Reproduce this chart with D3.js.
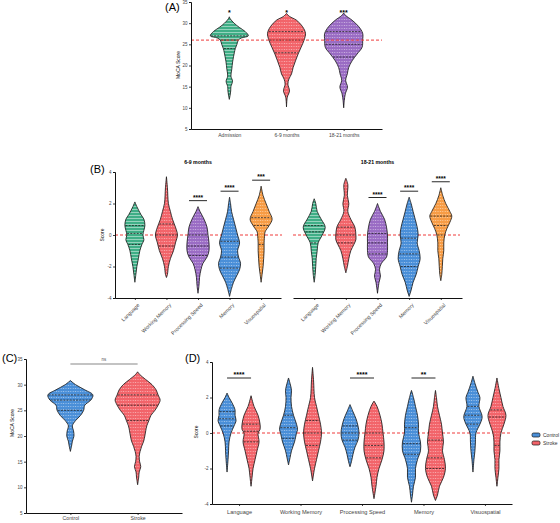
<!DOCTYPE html>
<html>
<head>
  <title>MoCA violins</title>
  <script src="https://cdn.jsdelivr.net/npm/d3@7"></script>
  <style>
    body { margin: 0; background: #fff; }
    text { font-family: "Liberation Sans", Arial, sans-serif; }
  </style>
</head>
<body>
<svg width="560" height="523"></svg>

<script>
  // ---- data ----
  // violin profiles: [value, relative density]
  var timeCats = ["Admission", "6-9 months", "18-21 months"];
  var domainCats = ["Language", "Working Memory", "Processing Speed", "Memory", "Visuospatial"];
  var groupCats = ["Control", "Stroke"];

  var mocaAdmission = [[12,0],[13,0.04],[14,0.07],[15,0.08],[16.3,0.16],[17.5,0.08],[19,0.12],[21,0.17],[23,0.25],[24,0.3],[25,0.38],[26,0.45],[26.5,0.6],[27,0.95],[28,0.8],[29,0.5],[30,0.24],[31,0.05],[31.5,0]];
  var moca69 = [[10.2,0],[12.5,0.04],[14,0.15],[15.6,0.07],[16.8,0.12],[18,0.25],[19.5,0.33],[21.1,0.45],[22.7,0.58],[24.3,0.73],[26,0.88],[27.6,0.95],[29.2,0.8],[30.7,0.5],[31.6,0.15],[32.3,0]];
  var moca1821 = [[10,0],[11.7,0.03],[13.3,0.08],[14.9,0.19],[16.5,0.1],[18,0.18],[19.5,0.25],[21.1,0.42],[22.7,0.67],[24.3,0.92],[26,0.95],[27.6,0.95],[29.2,0.75],[30.7,0.42],[31.8,0.1],[32.4,0]];
  var mocaQuart = [[24,26,27],[23,26,28],[22,25,28]];
  var mocaStars = ["*", "*", "***"];

  var b69 = [
    [[-3,0],[-2.5,0.09],[-2,0.18],[-1.5,0.32],[-1,0.45],[-0.6,0.64],[-0.3,0.82],[0,0.73],[0.3,0.82],[0.6,0.91],[1,0.82],[1.3,0.55],[1.8,0.18],[2.1,0]],
    [[-2.7,0],[-2.5,0.09],[-2,0.18],[-1.5,0.36],[-1,0.64],[-0.5,0.82],[0,1],[0.5,0.82],[1,0.55],[1.5,0.36],[2,0.18],[3,0.09],[3.7,0]],
    [[-3.7,0],[-3.2,0.09],[-2.7,0.14],[-2.2,0.27],[-1.8,0.45],[-1.4,0.82],[-1,1],[-0.5,1],[0,0.91],[0.5,0.82],[1,0.55],[1.5,0.18],[1.8,0]],
    [[-3.9,0],[-3.4,0.18],[-3,0.36],[-2.6,0.64],[-2.2,0.91],[-1.8,1],[-1.4,0.82],[-1,0.73],[-0.5,0.91],[0,0.73],[0.5,0.55],[1,0.36],[1.5,0.18],[2,0.09],[2.4,0]],
    [[-3,0],[-2.5,0.09],[-2,0.18],[-1.5,0.23],[-1,0.27],[-0.5,0.27],[0,0.32],[0.2,0.36],[0.6,0.73],[1,1],[1.5,0.73],[2,0.45],[2.5,0.18],[3.1,0]]
  ];
  var b69Quart = [[-0.6,0.1,0.6],[-0.7,0,0.7],[-1.3,-0.7,0],[-2.1,-1.4,-0.4],[-0.6,0.6,1.1]];
  var b69Stars = ["", "", "****", "****", "***"];

  var b1821 = [
    [[-3,0],[-2.5,0.09],[-2,0.14],[-1.5,0.18],[-1,0.27],[-0.5,0.36],[0,0.73],[0.5,1],[1,0.64],[1.5,0.27],[2,0.14],[2.3,0]],
    [[-2.4,0],[-2,0.14],[-1.5,0.27],[-1,0.45],[-0.6,0.73],[-0.3,0.91],[0,0.91],[0.5,0.82],[1,0.45],[1.5,0.18],[2,0.27],[2.5,0.14],[3.2,0.18],[3.6,0]],
    [[-3.7,0],[-3,0.14],[-2.6,0.27],[-2.2,0.18],[-1.8,0.36],[-1.4,0.82],[-1,0.91],[-0.5,0.91],[0,0.91],[0.5,0.82],[1,0.64],[1.5,0.27],[2,0]],
    [[-3.9,0],[-3.5,0.18],[-3,0.36],[-2.5,0.64],[-2,0.82],[-1.5,1],[-1,0.91],[-0.5,0.73],[0,0.82],[0.5,0.73],[1,0.55],[1.5,0.36],[2,0.18],[2.4,0]],
    [[-2.9,0],[-2.5,0.09],[-2,0.14],[-1.5,0.18],[-1,0.27],[-0.5,0.27],[0,0.36],[0.4,0.55],[0.8,0.82],[1.2,1],[1.5,0.82],[2,0.45],[2.5,0.18],[3,0]]
  ];
  var b1821Quart = [[-0.5,0.2,0.6],[-0.5,0,0.5],[-1.2,-0.5,0.1],[-2,-1.2,-0.2],[0,0.6,1.2]];
  var b1821Stars = ["", "", "****", "****", "****"];

  var cControl = [[17,0],[18,0.05],[19,0.09],[20,0.16],[21,0.14],[22,0.09],[23,0.23],[24,0.45],[25,0.59],[26,0.64],[27,0.91],[28,1],[29,0.64],[30,0.23],[30.8,0]];
  var cStroke = [[10.5,0],[12,0.05],[13,0.07],[14,0.14],[15,0.09],[16,0.07],[17,0.11],[18,0.18],[19,0.27],[20,0.32],[21,0.36],[22,0.41],[23,0.5],[24,0.59],[25,0.77],[26,0.91],[27,1],[28,0.91],[29,0.82],[30,0.64],[31,0.36],[32,0.09],[32.5,0]];
  var cQuart = [[25,27,28],[23,26,28]];

  var dControl = [
    [[-2.2,0],[-1.5,0.1],[-1,0.15],[-0.5,0.2],[0,0.4],[0.4,0.7],[0.7,0.9],[1,0.8],[1.3,0.8],[1.7,0.5],[2,0.2],[2.25,0]],
    [[-1.8,0],[-1.4,0.15],[-1,0.3],[-0.5,0.6],[0,0.8],[0.2,0.9],[0.5,0.8],[1,0.5],[1.5,0.3],[2,0.25],[2.4,0.3],[2.8,0.15],[3.1,0]],
    [[-1.9,0],[-1.6,0.15],[-1.2,0.3],[-0.8,0.5],[-0.4,0.8],[0,0.9],[0.4,0.8],[0.8,0.6],[1.2,0.3],[1.6,0]],
    [[-3.9,0],[-3.5,0.1],[-3,0.2],[-2.5,0.4],[-2,0.4],[-1.5,0.6],[-1,0.9],[-0.5,0.9],[0,0.7],[0.5,0.7],[1,0.6],[1.5,0.4],[2,0.2],[2.4,0]],
    [[-2.2,0],[-1.5,0.1],[-1,0.2],[-0.5,0.25],[0,0.3],[0.5,0.7],[0.8,0.9],[1,0.9],[1.5,0.6],[2,0.7],[2.3,0.5],[2.8,0.2],[3.2,0]]
  ];
  var dStroke = [
    [[-3,0],[-2.5,0.1],[-2,0.2],[-1.5,0.4],[-1,0.6],[-0.5,0.8],[0,0.7],[0.2,0.9],[0.5,0.9],[1,0.7],[1.5,0.3],[2.1,0]],
    [[-2.7,0],[-2,0.2],[-1.5,0.4],[-1,0.6],[-0.5,0.8],[0,0.9],[0.5,0.8],[1,0.6],[1.5,0.4],[2,0.2],[3,0.1],[3.7,0]],
    [[-3.7,0],[-3,0.2],[-2.5,0.3],[-2,0.5],[-1.5,0.8],[-1,1],[-0.5,1],[0,0.9],[0.5,0.8],[1,0.6],[1.5,0.3],[1.8,0]],
    [[-3.8,0],[-3.5,0.2],[-3,0.4],[-2.5,0.8],[-2,1],[-1.5,0.9],[-1,0.7],[-0.5,0.8],[0,0.7],[0.5,0.6],[1,0.4],[1.5,0.2],[2,0.1],[2.4,0]],
    [[-3,0],[-2.5,0.1],[-2,0.2],[-1.5,0.2],[-1,0.3],[-0.5,0.3],[0,0.4],[0.5,0.7],[1,0.9],[1.5,0.6],[2,0.4],[2.5,0.2],[3.1,0]]
  ];
  var dControlQuart = [[0.4,0.8,1.2],[-0.3,0.3,1],[-0.4,0,0.4],[-1.2,-0.6,0.3],[0.5,1,1.5]];
  var dStrokeQuart = [[-0.5,0.1,0.5],[-0.7,0,0.7],[-1.4,-0.7,0],[-2,-1.4,-0.4],[-0.7,0.9,1.3]];
  var dStars = ["****", "", "****", "**", ""];

  var colors = {green: "#3fae86", red: "#f2646a", purple: "#9a6cc4", blue: "#4a8fd8", orange: "#f79c45"};
  var domainColors = ["green", "red", "purple", "blue", "orange"];

  var svg = d3.select("svg");
  var defs = svg.append("defs");
  var plain = function(d) { return String(d); };   // hyphen minus, not the unicode one

  // dotted / striped fills
  Object.keys(colors).forEach(function(k) {
    var p = defs.append("pattern").attr("id", "pat-" + k)
      .attr("patternUnits", "userSpaceOnUse").attr("width", 2.4).attr("height", 3);
    p.append("rect").attr("width", 2.4).attr("height", 3).attr("fill", colors[k]);
    if (k == "green") {
      p.append("rect").attr("y", 2).attr("width", 2.4).attr("height", 1).attr("fill", "#fff").attr("opacity", 0.45);
    } else {
      p.append("circle").attr("cx", 1.2).attr("cy", 1.5).attr("r", 0.6).attr("fill", "#fff").attr("opacity", 0.55);
    }
  });

  function interp(profile, v) {
    for (var i = 1; i < profile.length; i++) {
      if (v <= profile[i][0]) {
        var a = profile[i-1], b = profile[i];
        return a[1] + (b[1] - a[1]) * (v - a[0]) / (b[0] - a[0]);
      }
    }
    return 0;
  }

  function violin(g, y, w, cx, profile, quart, colorKey) {
    var area = d3.area()
      .y(function(d) { return y(d[0]); })
      .x0(function(d) { return cx - w(d[1]); })
      .x1(function(d) { return cx + w(d[1]); })
      .curve(d3.curveCatmullRom.alpha(0.5));
    g.append("path").datum(profile)
      .attr("d", area)
      .attr("fill", "url(#pat-" + colorKey + ")")
      .attr("stroke", "#111").attr("stroke-width", 0.8);
    quart.forEach(function(q) {
      var hw = w(interp(profile, q)) - 0.6;
      g.append("line")
        .attr("x1", cx - hw).attr("x2", cx + hw)
        .attr("y1", y(q)).attr("y2", y(q))
        .attr("stroke", "#222").attr("stroke-width", 0.8)
        .attr("stroke-dasharray", "2,1.2");
    });
  }

  function styleAxis(sel, fs) {
    sel.selectAll("path.domain").attr("stroke", "#111").attr("stroke-width", 1);
    sel.selectAll(".tick line").attr("stroke", "#111").attr("stroke-width", 0.8);
    sel.selectAll(".tick text").attr("font-size", fs).attr("fill", "#444");
  }

  function refLine(x0, x1, yy) {
    svg.append("line").attr("x1", x0).attr("x2", x1).attr("y1", yy).attr("y2", yy)
      .attr("stroke", "#ef3b3b").attr("stroke-width", 1).attr("stroke-dasharray", "3,2");
  }

  function label(txt, x, y, size, extra) {
    var t = svg.append("text").attr("x", x).attr("y", y).attr("font-size", size).text(txt);
    if (extra) extra(t);
    return t;
  }

  // ---------- Panel A ----------
  var yA = d3.scaleLinear().domain([5, 35]).range([129, 2]);
  var xA = d3.scalePoint().domain(timeCats).range([191, 382]).padding(0.67);
  var wA = d3.scaleLinear().domain([0, 1]).range([0, 20]);
  var gA = svg.append("g");
  [mocaAdmission, moca69, moca1821].forEach(function(p, i) {
    violin(gA, yA, wA, xA(timeCats[i]), p, mocaQuart[i], ["green", "red", "purple"][i]);
    label(mocaStars[i], xA(timeCats[i]), 15, 7, function(t) { t.attr("text-anchor", "middle").attr("font-weight", "bold"); });
  });
  refLine(191, 382, yA(26));
  var axA = svg.append("g").attr("transform", "translate(191,0)")
    .call(d3.axisLeft(yA).tickValues([5,10,15,20,25,30,35]).tickFormat(plain).tickSize(2).tickPadding(1.5));
  styleAxis(axA, 4.5);
  var axAx = svg.append("g").attr("transform", "translate(0,129)")
    .call(d3.axisBottom(xA).tickSize(2).tickSizeOuter(0).tickPadding(2));
  styleAxis(axAx, 5);
  label("(A)", 165, 11, 11);
  label("MoCA Score", 180, 65, 5, function(t) { t.attr("text-anchor", "middle").attr("transform", "rotate(-90,180,65)"); });

  // ---------- Panel B ----------
  var yB = d3.scaleLinear().domain([-4, 4]).range([298, 172]);
  var wB = d3.scaleLinear().domain([0, 1]).range([0, 11]);
  var xBl = d3.scalePoint().domain(domainCats).range([115, 281]).padding(0.63);
  var xBr = d3.scalePoint().domain(domainCats).range([293, 462]).padding(0.67);

  refLine(115, 282, yB(0));
  refLine(293, 460, yB(0));

  function drawB(xs, data, quarts, stars, title) {
    var g = svg.append("g");
    data.forEach(function(p, i) {
      var cx = xs(domainCats[i]);
      violin(g, yB, wB, cx, p, quarts[i], domainColors[i]);
      if (stars[i]) {
        var top = yB(p[p.length - 1][0]) - 6;
        g.append("line").attr("x1", cx - 9).attr("x2", cx + 9).attr("y1", top).attr("y2", top)
          .attr("stroke", "#111").attr("stroke-width", 0.9);
        g.append("text").attr("x", cx).attr("y", top - 0.8).attr("text-anchor", "middle")
          .attr("font-size", 6.5).attr("font-weight", "bold").text(stars[i]);
      }
    });
    var ax = svg.append("g").attr("transform", "translate(0,298)")
      .call(d3.axisBottom(xs).tickSize(2).tickSizeOuter(0));
    styleAxis(ax, 5.2);
    ax.selectAll(".tick text")
      .attr("text-anchor", "end").attr("dy", 0)
      .attr("transform", "translate(1,4) rotate(-45)");
    var r = xs.range();
    label(title, (r[0] + r[1]) / 2, 164, 5.2, function(t) { t.attr("text-anchor", "middle").attr("font-weight", "bold"); });
  }
  drawB(xBl, b69, b69Quart, b69Stars, "6-9 months");
  drawB(xBr, b1821, b1821Quart, b1821Stars, "18-21 months");
  var axB = svg.append("g").attr("transform", "translate(115,0)")
    .call(d3.axisLeft(yB).tickValues([-4,-2,0,2,4]).tickFormat(plain).tickSize(2).tickPadding(1.5));
  styleAxis(axB, 4.5);
  label("(B)", 90, 173, 11);
  label("Score", 104, 235, 5, function(t) { t.attr("text-anchor", "middle").attr("transform", "rotate(-90,104,235)"); });

  // ---------- Panel C ----------
  var yC = d3.scaleLinear().domain([5, 35]).range([513, 359]);
  var xC = d3.scalePoint().domain(groupCats).range([26, 182]).padding(0.66);
  var wC = d3.scaleLinear().domain([0, 1]).range([0, 22.5]);
  var gC = svg.append("g");
  violin(gC, yC, wC, xC("Control"), cControl, cQuart[0], "blue");
  violin(gC, yC, wC, xC("Stroke"), cStroke, cQuart[1], "red");
  gC.append("line").attr("x1", xC("Control")).attr("x2", xC("Stroke")).attr("y1", 364).attr("y2", 364)
    .attr("stroke", "#888").attr("stroke-width", 1.2);
  label("ns", (xC("Control") + xC("Stroke")) / 2, 361, 4.5, function(t) { t.attr("text-anchor", "middle").attr("fill", "#555"); });
  var axC = svg.append("g").attr("transform", "translate(26,0)")
    .call(d3.axisLeft(yC).tickValues([5,10,15,20,25,30,35]).tickFormat(plain).tickSize(2).tickPadding(1.5));
  styleAxis(axC, 4.5);
  var axCx = svg.append("g").attr("transform", "translate(0,513)")
    .call(d3.axisBottom(xC).tickSize(2).tickSizeOuter(0).tickPadding(1.5));
  styleAxis(axCx, 5.2);
  label("(C)", 2, 362, 11);
  label("MoCA Score", 14, 423, 5, function(t) { t.attr("text-anchor", "middle").attr("transform", "rotate(-90,14,423)"); });

  // ---------- Panel D ----------
  var yD = d3.scaleLinear().domain([-4, 4]).range([504, 362]);
  var xD = d3.scalePoint().domain(domainCats).range([212, 512]).padding(0.44);
  var wD = d3.scaleLinear().domain([0, 1]).range([0, 10]);
  refLine(212, 510, yD(0));
  var gD = svg.append("g");
  domainCats.forEach(function(c, i) {
    var cx = xD(c);
    violin(gD, yD, wD, cx - 12, dControl[i], dControlQuart[i], "blue");
    violin(gD, yD, wD, cx + 12, dStroke[i], dStrokeQuart[i], "red");
    if (dStars[i]) {
      gD.append("line").attr("x1", cx - 12).attr("x2", cx + 12).attr("y1", 378).attr("y2", 378)
        .attr("stroke", "#111").attr("stroke-width", 0.9);
      gD.append("text").attr("x", cx).attr("y", 376.5).attr("text-anchor", "middle")
        .attr("font-size", 7).attr("font-weight", "bold").text(dStars[i]);
    }
  });
  var axD = svg.append("g").attr("transform", "translate(212,0)")
    .call(d3.axisLeft(yD).tickValues([-4,-2,0,2,4]).tickFormat(plain).tickSize(2).tickPadding(1.5));
  styleAxis(axD, 4.5);
  var axDx = svg.append("g").attr("transform", "translate(0,504)")
    .call(d3.axisBottom(xD).tickSize(2).tickSizeOuter(0).tickPadding(4));
  styleAxis(axDx, 5.6);
  label("(D)", 185, 362, 11);
  label("Score", 198, 432, 5, function(t) { t.attr("text-anchor", "middle").attr("transform", "rotate(-90,198,432)"); });

  // legend
  var leg = svg.append("g").attr("transform", "translate(532,433)");
  groupCats.forEach(function(c, i) {
    leg.append("rect").attr("x", 0).attr("y", i * 8).attr("width", 8).attr("height", 4).attr("rx", 1.5)
      .attr("fill", i == 0 ? colors.blue : colors.red).attr("stroke", "#111").attr("stroke-width", 0.7);
    leg.append("text").attr("x", 11).attr("y", i * 8 + 4).attr("font-size", 5).attr("fill", "#333").text(c);
  });
</script>
</body>
</html>
